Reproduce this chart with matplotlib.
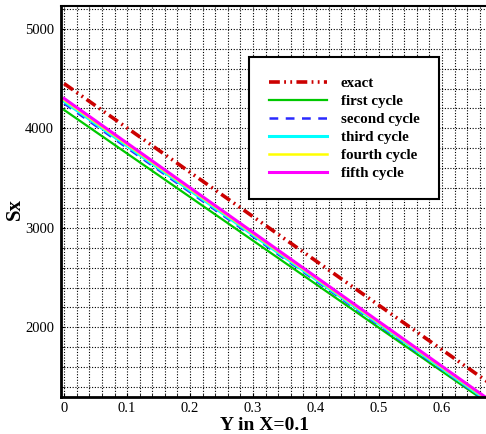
import numpy as np
from matplotlib import pyplot as plt
from matplotlib.ticker import MultipleLocator

# data: straight lines given by their end values
x = [0.0, 0.7]
exact = [4450, 1330]
first = [4185, 1120]
second = [4250, 1130]
third = [4270, 1140]
fourth = [4285, 1150]
fifth = [4300, 1160]

plt.rcParams['font.family'] = ['Liberation Serif', 'DejaVu Serif']

fig = plt.figure(figsize=(4.86, 4.34), dpi=100)
ax = fig.add_axes([0.1255, 0.0853, 0.8745, 0.9009])

ax.plot(x, exact, color='#cc0000', lw=2.6, dashes=(3, 1.2, 0.5, 1.2, 0.5, 1.2), label='exact')
ax.plot(x, first, color='#00c800', lw=1.6, label='first cycle')
ax.plot(x, second, color='#2a2aff', lw=1.8, dashes=(3.5, 3), label='second cycle')
ax.plot(x, third, color='#00ffff', lw=2.2, label='third cycle')
ax.plot(x, fourth, color='#ffff00', lw=1.8, label='fourth cycle')
ax.plot(x, fifth, color='#ff00ff', lw=2.2, label='fifth cycle')

ax.set_xlim(-0.005, 0.67)
ax.set_ylim(1300, 5230)
ax.xaxis.set_major_locator(MultipleLocator(0.1))
ax.xaxis.set_minor_locator(MultipleLocator(0.02))
ax.yaxis.set_major_locator(MultipleLocator(1000))
ax.yaxis.set_minor_locator(MultipleLocator(200))
ax.set_xticks([0, 0.1, 0.2, 0.3, 0.4, 0.5, 0.6])
ax.set_xticklabels(['0', '0.1', '0.2', '0.3', '0.4', '0.5', '0.6'])
ax.grid(which='both', color='black', linestyle=(0, (1, 1.5)), linewidth=0.8)
ax.set_axisbelow(True)
ax.tick_params(which='both', direction='in', labelsize=10.5, length=3, pad=5)
ax.tick_params(axis='x', which='both', pad=3.5)
ax.tick_params(which='minor', length=2)

for s in ['left', 'bottom']:
    ax.spines[s].set_linewidth(2)
ax.spines['top'].set_linewidth(1.5)
ax.spines['right'].set_visible(False)

ax.set_xlabel('Y in X=0.1', fontsize=14, fontweight='bold')
ax.set_ylabel('Sx', fontsize=15, fontweight='bold')
ax.xaxis.set_label_coords(0.48, -0.05)
ax.yaxis.set_label_coords(-0.085, 0.48)

leg = ax.legend(loc='upper left', bbox_to_anchor=(0.443, 0.87), prop={'weight': 'bold', 'size': 10.8},
                frameon=True, fancybox=False, handlelength=3.9, labelspacing=0.3,
                borderpad=1.3, handletextpad=0.9, borderaxespad=0)
leg.get_frame().set_edgecolor('black')
leg.get_frame().set_linewidth(1.5)
leg.get_frame().set_alpha(1)

plt.savefig('out.png')
